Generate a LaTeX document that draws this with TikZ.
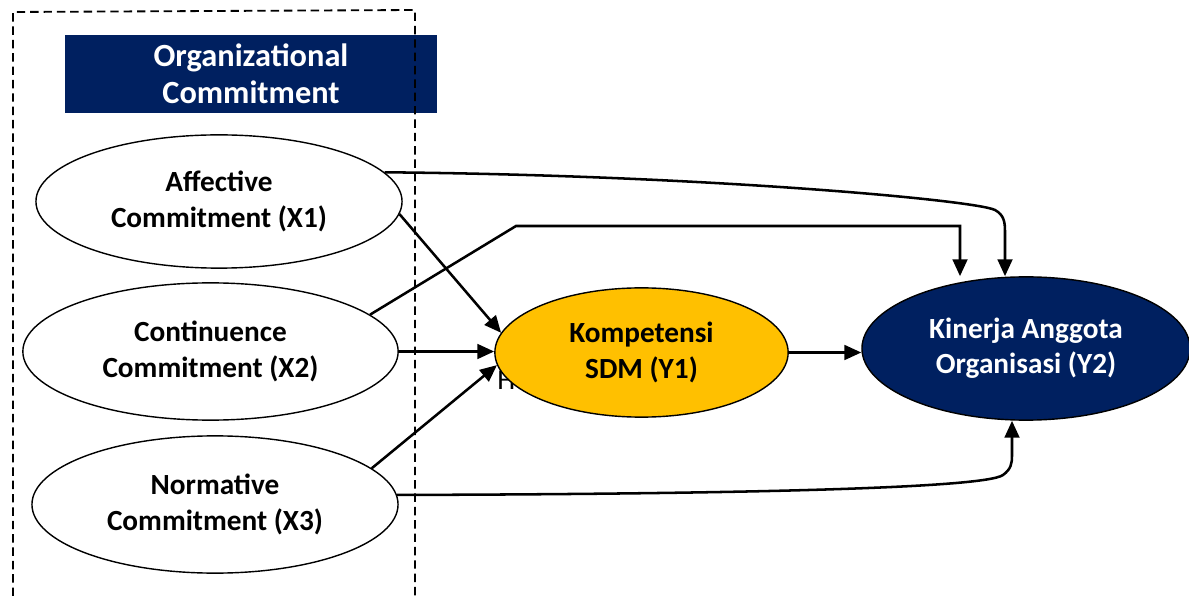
\documentclass[tikz,border=0pt]{standalone}
\usepackage{fontspec}
\setmainfont{Carlito}
\usetikzlibrary{shapes.geometric,arrows.meta}
\definecolor{navy}{HTML}{002060}
\definecolor{gold}{HTML}{FFC000}
\tikzset{
  latent/.style={ellipse, draw=black, line width=1pt, inner sep=0pt, align=center,
    font=\fontsize{20.8}{25}\selectfont\bfseries},
  path/.style={line width=1.8pt, -{Triangle[length=12pt,width=10.5pt]}},
  grouping/.style={line width=1.3pt, dash pattern=on 6pt off 3.5pt},
}
\begin{document}
\begin{tikzpicture}[x=0.025cm, y=-0.025cm]
\useasboundingbox (0,0) rectangle (1189,596);

% header of the grouping frame
\node[fill=navy, minimum width=9.3cm, minimum height=1.95cm, inner sep=0pt,
      text=white, align=center, font=\fontsize{23}{26}\selectfont\bfseries]
      (head) at (251,74) {Organizational\\Commitment};

% exogenous constructs
\node[latent, minimum width=9.15cm, minimum height=3.33cm] (x1) at (219,201.5) {Affective\\Commitment (X1)};
\node[latent, minimum width=9.38cm, minimum height=3.43cm] (x2) at (210.5,351.5) {Continuence\\Commitment (X2)};
\node[latent, minimum width=9.15cm, minimum height=3.43cm] (x3) at (215,504.5) {Normative\\Commitment (X3)};

% stray label partly covered by the mediator
\node[anchor=base west, inner sep=0pt, font=\fontsize{20.5}{25}\selectfont] (h) at (497,390) {H};

% mediator and outcome
\node[latent, fill=gold, minimum width=7.33cm, minimum height=3.23cm] (y1) at (641.5,352.5) {Kompetensi\\SDM (Y1)};
\node[latent, fill=navy, text=white, minimum width=8.2cm, minimum height=3.58cm] (y2) at (1026,348.5) {Kinerja Anggota\\Organisasi (Y2)};

% bend points of the direct paths
\coordinate (k1) at (1005,232);
\coordinate (k2a) at (516,226);
\coordinate (k2b) at (960,226);
\coordinate (k3) at (1012,455);

% paths to the mediator
\draw[path] (x1.-4) -- (y1.172);
\draw[path] (x2.east) -- (x2.east -| y1.west);
\draw[path] (x3.13) -- (y1.185);
\draw[path] (y1.east) -- (y1.east -| y2.west);

% direct paths to the outcome
\draw[path] (x1.10) .. controls (700,175) and (975,200) .. (995,210)
            .. controls (1004,215) and (1005,222) .. (k1) -- (k1 |- y2.north);
\draw[path] (x2.13) -- (k2a) -- (k2b) -- (k2b |- y2.north);
\draw[path] (x3.3) .. controls (750,494) and (985,488) .. (1003,475)
            .. controls (1011,469) and (1012,464) .. (k3) -- (k3 |- y2.south);

% dashed grouping frame
\draw[grouping] (13,596) -- (13,12) -- (415,10) -- (415,596);
\end{tikzpicture}
\end{document}
